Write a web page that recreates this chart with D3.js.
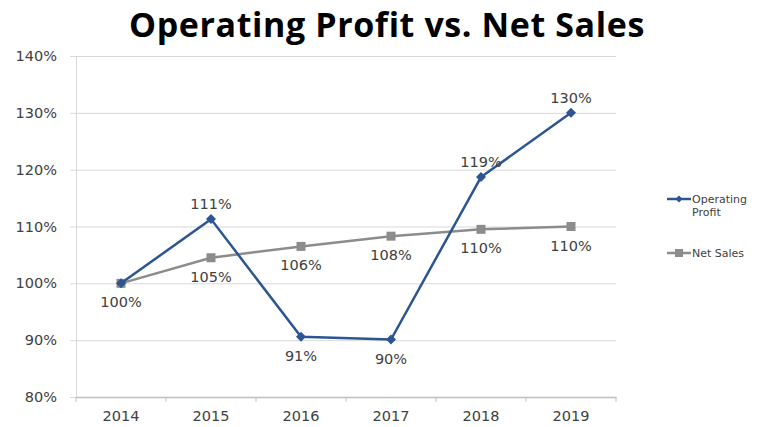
<!DOCTYPE html>
<html>
<head>
<meta charset="utf-8">
<script src="https://cdn.jsdelivr.net/npm/d3@7"></script>
<style>
  body { margin: 0; background: #fff; }
  text { font-family: "DejaVu Sans", Verdana, sans-serif; }
</style>
</head>
<body>
<svg id="chart" width="768" height="427"></svg>
<script>
// chart data
const years = ["2014", "2015", "2016", "2017", "2018", "2019"];
const operatingProfit = [100, 111.3, 90.6, 90.1, 118.7, 130];
const netSales = [100, 104.5, 106.5, 108.3, 109.5, 110];
const opLabels = ["", "111%", "91%", "90%", "119%", "130%"];
const nsLabels = ["100%", "105%", "106%", "108%", "110%", "110%"];
const yTicks = [80, 90, 100, 110, 120, 130, 140];

const width = 768, height = 427;
const margin = {top: 56, right: 152, bottom: 30, left: 76};

const svg = d3.select("#chart");

const x = d3.scaleBand()
    .domain(years)
    .range([margin.left, width - margin.right]);

const y = d3.scaleLinear()
    .domain([80, 140])
    .range([height - margin.bottom, margin.top]);

const cx = d => x(d) + x.bandwidth() / 2;
const labelSize = "14.5px";
const labelColor = "#404040";

// title
svg.append("text")
    .attr("x", 387)
    .attr("y", 37)
    .attr("text-anchor", "middle")
    .style("font-family", "'Open Sans', sans-serif")
    .style("font-weight", "bold")
    .style("font-size", "34px")
    .style("letter-spacing", "0.6px")
    .style("fill", "#000")
    .text("Operating Profit vs. Net Sales");

// gridlines + y labels
const yAxis = d3.axisLeft(y)
    .tickValues(yTicks)
    .tickSize(-(width - margin.right - margin.left))
    .tickFormat(d => d + "%");

svg.append("g")
    .attr("transform", `translate(${margin.left},0)`)
    .call(yAxis)
    .call(g => g.select(".domain").attr("stroke", "#d9d9d9"))
    .call(g => g.selectAll(".tick line").attr("stroke", "#d9d9d9").attr("x1", -6))
    .call(g => g.selectAll(".tick text")
        .attr("x", -19)
        .style("font-size", labelSize)
        .style("fill", labelColor));

// x axis
const xAxis = d3.axisBottom(x)
    .tickSizeOuter(0)
    .tickSize(0)
    .tickPadding(14);

const xg = svg.append("g")
    .attr("transform", `translate(0,${height - margin.bottom})`)
    .call(xAxis);
xg.select(".domain").attr("stroke", "#bfbfbf").attr("stroke-width", 1.5);
xg.selectAll(".tick text")
    .style("font-size", labelSize)
    .style("fill", labelColor);
// category separator ticks
xg.selectAll("line.sep")
    .data(years.concat(["end"]))
    .enter().append("line")
    .attr("class", "sep")
    .attr("x1", (d, i) => margin.left + i * x.step())
    .attr("x2", (d, i) => margin.left + i * x.step())
    .attr("y1", 0).attr("y2", 5)
    .attr("stroke", "#bfbfbf");

const opColor = "#2c5592";
const nsColor = "#8c8c8c";

const line = d3.line()
    .x((d, i) => cx(years[i]))
    .y(d => y(d));

// net sales
svg.append("path")
    .datum(netSales)
    .attr("fill", "none")
    .attr("stroke", nsColor)
    .attr("stroke-width", 2.5)
    .attr("d", line);

svg.selectAll("rect.ns")
    .data(netSales)
    .enter().append("rect")
    .attr("class", "ns")
    .attr("x", (d, i) => cx(years[i]) - 4.5)
    .attr("y", d => y(d) - 4.5)
    .attr("width", 9).attr("height", 9)
    .attr("fill", nsColor);

// operating profit
svg.append("path")
    .datum(operatingProfit)
    .attr("fill", "none")
    .attr("stroke", opColor)
    .attr("stroke-width", 2.5)
    .attr("d", line);

const diamond = d3.symbol().type(d3.symbolSquare).size(50);
svg.selectAll("path.op")
    .data(operatingProfit)
    .enter().append("path")
    .attr("class", "op")
    .attr("transform", (d, i) => `translate(${cx(years[i])},${y(d)}) rotate(45)`)
    .attr("d", diamond)
    .attr("fill", opColor);

// data labels
const opAbove = [true, true, false, false, true, true];
svg.selectAll("text.oplab")
    .data(operatingProfit)
    .enter().append("text")
    .attr("class", "oplab")
    .attr("x", (d, i) => cx(years[i]))
    .attr("y", (d, i) => opAbove[i] ? y(d) - 10 : y(d) + 24)
    .attr("text-anchor", "middle")
    .style("font-size", labelSize)
    .style("fill", labelColor)
    .text((d, i) => opLabels[i]);

svg.selectAll("text.nslab")
    .data(netSales)
    .enter().append("text")
    .attr("class", "nslab")
    .attr("x", (d, i) => cx(years[i]))
    .attr("y", d => y(d) + 24)
    .attr("text-anchor", "middle")
    .style("font-size", labelSize)
    .style("fill", labelColor)
    .text((d, i) => nsLabels[i]);

// legend
const legend = svg.append("g").attr("transform", "translate(667,199)");
const series = [
  {name: ["Operating", "Profit"], color: opColor, shape: "diamond", dy: 0},
  {name: ["Net Sales"], color: nsColor, shape: "square", dy: 54}
];
series.forEach(s => {
  const g = legend.append("g").attr("transform", `translate(0,${s.dy})`);
  g.append("line")
    .attr("x1", 0).attr("x2", 24)
    .attr("stroke", s.color).attr("stroke-width", 2.5);
  if (s.shape === "diamond") {
    g.append("path").attr("transform", "translate(12,0) rotate(45)")
      .attr("d", d3.symbol().type(d3.symbolSquare).size(25)).attr("fill", s.color);
  } else {
    g.append("rect").attr("x", 8).attr("y", -4).attr("width", 8).attr("height", 8)
      .attr("fill", s.color);
  }
  s.name.forEach((t, j) => {
    g.append("text")
      .attr("x", 25).attr("y", 4 + j * 13)
      .style("font-size", "11px")
      .style("fill", labelColor)
      .text(t);
  });
});
</script>
</body>
</html>
